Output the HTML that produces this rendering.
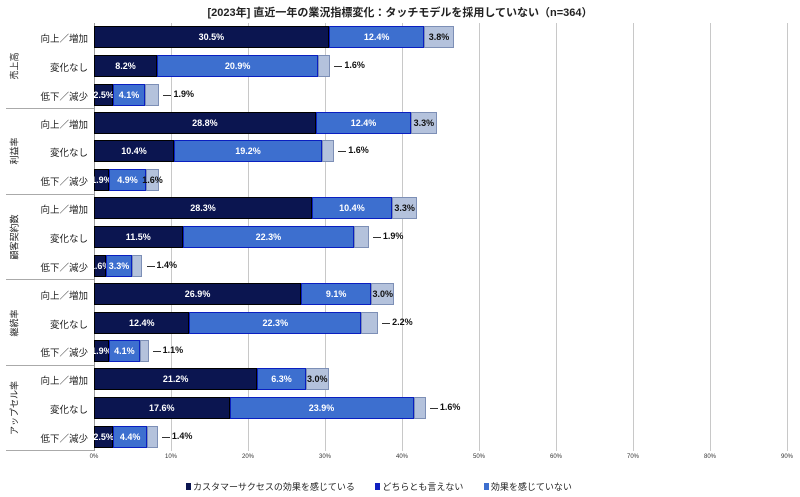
<!DOCTYPE html>
<html><head><meta charset="utf-8"><style>
body{margin:0;width:800px;height:497px;background:#fff;position:relative;overflow:hidden;font-family:"Liberation Sans","Noto Sans CJK JP",sans-serif;}
.a{position:absolute}
.seg{position:absolute;box-sizing:border-box;height:22px;color:#fff;font-size:9px;font-weight:bold;line-height:20px;white-space:nowrap;overflow:visible;display:flex;justify-content:center}
.s1{background:#0b1550;border:1.5px solid #000}
.s2{background:#3d6fcf;border:1.5px solid #0a1fc0}
.s3{background:#b4c2dc;border:1px solid #7d8fb6;color:#111}
.grid{position:absolute;top:23px;height:428px;width:1px;background:#c8c8c8}
.rl{position:absolute;right:712px;font-size:9.5px;color:#222;white-space:nowrap}
.gl{position:absolute;font-size:9px;color:#222;left:14px;white-space:nowrap;transform:translate(-50%,-50%) rotate(-90deg)}
.tick{position:absolute;top:454px;font-size:6px;color:#333;transform:translateX(-50%)}
.out{position:absolute;font-size:9px;font-weight:bold;color:#111;white-space:nowrap}
</style></head><body>
<div class="a" style="left:0;width:800px;top:4px;text-align:center;font-size:11px;font-weight:bold;color:#222">[2023年] 直近一年の業況指標変化：タッチモデルを採用していない（n=364）</div>
<div id="c"></div>
<div class="a" style="left:186px;top:480px;font-size:9px;color:#222;white-space:nowrap">
<span style="display:inline-block;width:5px;height:7px;background:#0b1550;margin-right:2px"></span>カスタマーサクセスの効果を感じている
<span style="display:inline-block;width:5px;height:7px;background:#1020c0;margin:0 2px 0 18px"></span>どちらとも言えない
<span style="display:inline-block;width:5px;height:7px;background:#3d6fcf;margin:0 2px 0 18px"></span>効果を感じていない</div>
<script>
(function(){
var c=document.getElementById('c'),h='';
var X0=94,S=7.7;
for(var i=0;i<=9;i++){h+='<div class="grid" style="left:'+(X0+i*S*10)+'px"></div><div class="tick" style="left:'+(X0+i*S*10)+'px">'+(i*10)+'%</div>';}
h+='<div class="a" style="left:94px;top:23px;width:1px;height:428px;background:#999"></div>';
var G=[["売上高",[[30.5,12.4,3.8,0],[8.2,20.9,1.6,1],[2.5,4.1,1.9,1]]],
["利益率",[[28.8,12.4,3.3,0],[10.4,19.2,1.6,1],[1.9,4.9,1.6,0]]],
["顧客契約数",[[28.3,10.4,3.3,0],[11.5,22.3,1.9,1],[1.6,3.3,1.4,1]]],
["継続率",[[26.9,9.1,3.0,0],[12.4,22.3,2.2,1],[1.9,4.1,1.1,1]]],
["アップセル率",[[21.2,6.3,3.0,0],[17.6,23.9,1.6,1],[2.5,4.4,1.4,1]]]];
var labs=["向上／増加","変化なし","低下／減少"];
for(var g=0;g<5;g++){
 var gt=23+g*85.6;
 h+='<div class="gl" style="top:'+(gt+42.8)+'px">'+G[g][0]+'</div>';
 h+='<div class="a" style="left:6px;width:88px;height:1px;background:#aaa;top:'+(gt+85)+'px"></div>';
 for(var r=0;r<3;r++){
  var y=gt+3+r*28.8,d=G[g][1][r],x=X0;
  h+='<div class="rl" style="top:'+(y+5)+'px">'+labs[r]+'</div>';
  for(var k=0;k<3;k++){
   var w=d[k]*S;
   var t=(k==2&&d[3])?'':d[k].toFixed(1)+'%';
   h+='<div class="seg s'+(k+1)+'" style="left:'+x+'px;top:'+y+'px;width:'+w+'px"><span>'+t+'</span></div>';
   x+=w;
  }
  if(d[3]){h+='<div class="a" style="left:'+(x+4)+'px;top:'+(y+11)+'px;width:8px;height:1px;background:#333"></div><div class="out" style="left:'+(x+14)+'px;top:'+(y+5)+'px">'+d[2].toFixed(1)+'%</div>';}
 }
}
c.innerHTML=h;
})();
</script>
</body></html>
